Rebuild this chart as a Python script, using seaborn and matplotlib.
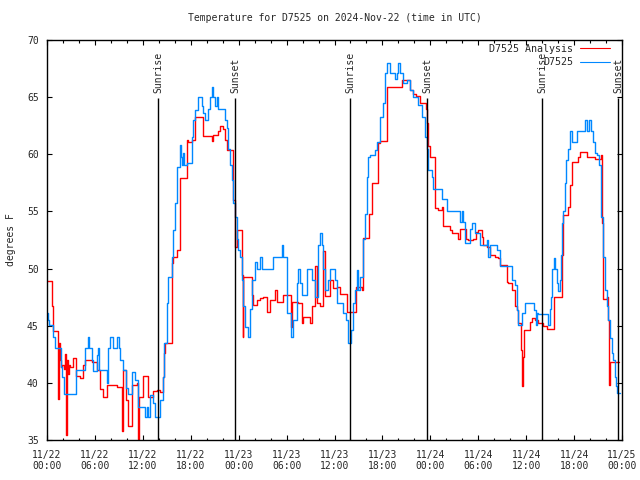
import pandas as pd
import seaborn as sns
import matplotlib
matplotlib.use('Agg')
from matplotlib import pyplot as plt

# hours since 2024-11-22 00:00 UTC
red_hours = [0, 0.58, 0.79, 1.42, 1.5, 1.6, 1.75, 1.9, 2.1, 2.3, 2.42, 2.5, 2.6, 2.7, 2.9, 3.3,
             3.63, 4.13, 4.47, 4.76, 5.59, 6.22, 6.64, 7.05, 7.47, 8.8, 9.35, 9.5, 9.9, 10.19,
             10.6, 11.23, 11.44, 11.52, 12.06, 12.69, 13.32, 13.8, 14.15, 14.48, 14.65, 14.78,
             15.61, 15.74, 16.24, 16.65, 17.49, 17.7, 18.11, 18.53, 19.58, 20.62, 20.83, 21.45,
             21.7, 22.0, 22.29, 22.58, 23.25, 23.54, 23.8, 24.38, 24.5, 24.6, 25.63, 25.84,
             26.26, 26.67, 27.09, 27.51, 27.93, 28.55, 28.76, 29.6, 30.6, 30.7, 31.47, 31.9,
             32.1, 32.93, 33.14, 33.56, 33.77, 34.19, 34.6, 34.81, 35.43, 35.85, 36.27, 36.69,
             37.52, 38.69, 39.4, 39.61, 40.36, 40.65, 41.49, 41.7, 42.53, 44.5, 45.45, 45.8,
             46.2, 46.71, 47.4, 47.6, 47.75, 47.96, 48.58, 49.0, 49.42, 49.63, 50.46, 50.67,
             51.5, 51.72, 52.47, 52.76, 53.39, 53.72, 54.0, 54.43, 54.64, 55.05, 55.47, 56.1,
             56.52, 56.73, 57.56, 57.77, 58.19, 58.6, 58.81, 59.02, 59.31, 59.44, 59.56, 59.73,
             60.48, 60.69, 61.1, 61.52, 62.15, 62.57, 63.49, 64.45, 64.57, 65.28, 65.49, 65.7,
             66.53, 66.74, 67.58, 68.62, 69.33, 69.46, 69.58, 69.66, 70.17, 70.3, 70.42, 70.5,
             71.6]
red_temps = [48.9, 46.7, 44.5, 38.6, 43.5, 42.0, 41.4, 41.6, 41.2, 42.5, 35.4, 42.0, 40.8, 41.6, 41.4, 42.2,
             40.6, 40.4, 41.6, 42.0, 41.8, 41.1, 39.5, 38.8, 39.8, 39.6, 35.8, 41.1, 38.5, 36.2,
             39.8, 40.0, 35.1, 38.8, 40.6, 38.8, 39.3, 39.4, 39.2, 40.5, 42.6, 43.5,
             50.5, 51.0, 51.6, 57.9, 61.25, 61.1, 61.25, 63.3, 61.6, 61.2, 61.7, 62.0,
             62.5, 62.2, 61.25, 60.4, 56.0, 51.9, 53.4, 49.4, 44.0, 49.3, 47.7, 46.8,
             47.25, 47.4, 47.5, 46.2, 47.25, 48.1, 47.1, 47.7, 44.9, 47.1, 47.0, 45.2,
             45.8, 45.2, 46.7, 50.2, 47.0, 46.7, 51.5, 47.6, 49.0, 48.3, 48.4, 47.8,
             46.2, 48.4, 48.1, 52.7, 54.8, 57.5, 61.0, 61.2, 65.9, 66.5, 65.6, 65.3,
             65.1, 64.5, 64.0, 62.7, 60.7, 59.8, 55.3, 55.1, 55.4, 53.7, 53.4, 53.1,
             52.6, 53.5, 52.6, 52.5, 52.6, 53.2, 53.4, 52.8, 52.1, 51.9, 51.2, 51.0,
             50.9, 50.3, 48.85, 48.7, 48.1, 46.7, 46.4, 45.2, 42.9, 39.7, 42.3, 44.6,
             45.35, 45.65, 45.5, 45.26, 45.0, 44.7, 47.5, 51.2, 54.7, 55.4, 57.3, 59.35,
             59.8, 60.2, 59.8, 59.56, 59.9, 54.0, 49.7, 47.3, 47.5, 45.5, 39.8, 41.85,
             41.8]

blue_hours = [0, 0.1, 0.2, 0.71, 1.0, 1.7, 1.9, 2.13, 3.63, 4.76, 5.17, 5.3, 5.59, 5.72, 6.22, 6.43,
              6.55, 7.47, 7.68, 7.89, 8.22, 8.72, 9.0, 9.14, 9.47, 9.89, 10.1, 10.6, 11.02, 11.44,
              12.27, 12.5, 12.69, 12.9, 13.3, 13.53, 14.15, 14.57, 14.65, 14.98, 15.19, 15.61,
              15.82, 16.03, 16.24, 16.65, 16.74, 16.86, 17.07, 17.2, 17.49, 18.11, 18.32, 18.53,
              18.95, 19.37, 19.58, 19.79, 20.2, 20.41, 20.62, 20.83, 21.04, 21.25, 21.45, 22.29,
              22.58, 22.71, 22.92, 23.12, 23.33, 23.54, 23.75, 23.96, 24.17, 24.37, 24.6, 24.8,
              25.2, 25.42, 25.63, 26.05, 26.26, 26.67, 26.88, 28.34, 29.39, 29.6, 30.0, 30.6,
              30.85, 31.26, 31.47, 31.68, 31.9, 32.5, 33.14, 33.56, 33.98, 34.19, 34.4, 34.6,
              34.81, 35.22, 35.43, 36.06, 36.27, 36.69, 37.1, 37.44, 37.73, 38.02, 38.36, 38.57,
              38.77, 38.98, 39.19, 39.53, 39.61, 39.82, 40.03, 40.24, 40.45, 41.07, 41.28, 41.7,
              42.11, 42.32, 42.53, 42.95, 43.58, 43.79, 44.0, 44.2, 44.62, 45.04, 45.45, 45.87,
              46.5, 46.92, 47.33, 47.54, 47.75, 48.17, 48.38, 49.42, 50.05, 51.72, 51.93, 52.14,
              52.35, 52.97, 53.18, 53.6, 54.22, 55.05, 55.26, 55.47, 56.3, 56.73, 58.19, 58.6,
              58.81, 59.02, 59.44, 59.85, 60.98, 61.23, 61.4, 61.52, 62.78, 62.99, 63.11, 63.28,
              63.49, 63.61, 63.82, 64.03, 64.24, 64.32, 64.45, 64.65, 64.86, 64.99, 65.28, 65.49,
              65.7, 66.32, 67.37, 67.66, 67.91, 68.08, 68.42, 68.62, 68.83, 69.17, 69.33, 69.58,
              69.87, 70.08, 70.3, 70.5, 70.71, 70.92, 71.13, 71.26, 71.42, 71.8]
blue_temps = [46.1, 45.5, 45.06, 44.04, 43.02, 41.4, 40.5, 39.0, 41.12, 43.02, 44.04, 43.02, 42.0, 41.0, 42.44, 43.02,
              41.12, 39.96, 43.02, 44.04, 43.02, 44.04, 43.02, 42.0, 41.12, 39.52, 39.0, 40.98, 40.25, 37.9,
              37.04, 37.9, 37.04, 38.94, 38.2, 37.04, 38.5, 40.5, 43.5, 47.0, 49.3, 51.0,
              53.4, 55.7, 58.9, 60.8, 59.8, 59.1, 60.1, 59.1, 59.2, 61.5, 63.0, 63.9,
              65.0, 64.2, 63.6, 63.0, 64.0, 65.0, 65.9, 65.0, 64.2, 65.0, 64.0, 63.0,
              62.3, 60.5, 59.1, 57.75, 55.7, 54.5, 52.6, 51.6, 51.0, 49.0, 46.7, 44.9,
              44.0, 46.5, 49.0, 50.6, 50.0, 51.0, 50.0, 51.0, 52.06, 51.0, 46.08, 44.0,
              45.5, 48.7, 50.0, 48.7, 47.7, 50.0, 49.0, 47.5, 52.06, 53.1, 52.06, 50.0,
              48.1, 49.0, 50.0, 49.0, 47.0, 47.0, 46.1, 45.5, 43.5, 44.6, 47.0, 48.1,
              49.9, 48.1, 49.3, 50.5, 52.6, 54.8, 58.0, 59.8, 59.9, 60.4, 61.1, 63.3,
              64.5, 67.1, 68.0, 67.1, 66.6, 67.1, 68.0, 67.1, 66.2, 66.5, 65.6, 65.0,
              64.3, 63.3, 61.5, 60.5, 58.6, 58.0, 57.0, 56.1, 55.0, 54.1, 55.0, 54.1,
              52.2, 53.5, 54.0, 53.1, 52.06, 52.5, 51.0, 52.06, 51.6, 50.2, 49.0, 48.6,
              46.4, 45.06, 46.1, 46.96, 46.4, 45.06, 46.1, 46.0, 45.06, 46.5, 47.5, 50.0,
              50.9, 50.0, 48.7, 48.0, 49.0, 51.2, 54.0, 55.0, 57.5, 59.5, 60.5, 62.0,
              61.1, 62.0, 63.0, 62.0, 63.0, 62.0, 61.1, 60.1, 59.9, 59.06, 54.5, 51.0,
              48.1, 46.7, 45.5, 43.9, 42.6, 42.0, 40.5, 39.7, 39.1, 39.1]

sunrise = [13.87, 37.88, 61.93]
sunset = [23.5, 47.52, 71.45]

tick_hours = list(range(0, 73, 6))
tick_labels = ['11/22\n00:00', '11/22\n06:00', '11/22\n12:00', '11/22\n18:00',
               '11/23\n00:00', '11/23\n06:00', '11/23\n12:00', '11/23\n18:00',
               '11/24\n00:00', '11/24\n06:00', '11/24\n12:00', '11/24\n18:00',
               '11/25\n00:00']

df_red = pd.DataFrame({'hour': red_hours, 'temp': red_temps})
df_blue = pd.DataFrame({'hour': blue_hours, 'temp': blue_temps})

sns.set_style('ticks')
plt.rcParams['font.family'] = ['DejaVu Sans Mono']
plt.rcParams['font.size'] = 7

fig = plt.figure(figsize=(6.4, 4.8), dpi=100)
ax = fig.add_axes([47/640, 40/480, 575/640, 400/480])

sns.lineplot(data=df_red, x='hour', y='temp', estimator=None, drawstyle='steps-post',
             color='#ff0000', lw=1.0, label='D7525 Analysis', ax=ax)
sns.lineplot(data=df_blue, x='hour', y='temp', estimator=None, drawstyle='steps-post',
             color='#0088ff', lw=1.0, label='D7525', ax=ax)

for h in sunrise:
    ax.vlines(h, 35, 64.9, color='black', lw=1.0)
    ax.text(h + 0.1, 65.4, 'Sunrise', rotation=90, ha='center', va='bottom', fontsize=7)
for h in sunset:
    ax.vlines(h, 35, 64.9, color='black', lw=1.0)
    ax.text(h + 0.1, 65.4, 'Sunset', rotation=90, ha='center', va='bottom', fontsize=7)

ax.set_xlim(0, 72)
ax.set_ylim(35, 70)
ax.set_xticks(tick_hours)
ax.set_xticklabels(tick_labels)
ax.set_xticks(range(0, 73, 2), minor=True)
ax.set_yticks(range(35, 71, 5))
ax.tick_params(which='both', direction='in', top=True, right=True, labelsize=7, color='black')
ax.tick_params(which='major', length=3.6, width=0.8)
ax.tick_params(which='minor', length=1.8, width=0.8)
ax.tick_params(axis='x', which='major', pad=7)
ax.tick_params(axis='y', which='major', pad=6)
for s in ax.spines.values():
    s.set_color('black')
    s.set_linewidth(1.0)

ax.set_xlabel('')
ax.set_ylabel('degrees F', fontsize=7, labelpad=8)
ax.set_title('Temperature for D7525 on 2024-Nov-22 (time in UTC)', fontsize=7, pad=14)

leg = ax.legend(loc='upper right', bbox_to_anchor=(0.979, 0.99), frameon=False, markerfirst=False,
                borderpad=0, borderaxespad=0, handlelength=3.0, handletextpad=0.7,
                labelspacing=0.35, fontsize=7.2)
for line in leg.get_lines():
    line.set_linewidth(0.8)

plt.savefig('out.png', dpi=100)
